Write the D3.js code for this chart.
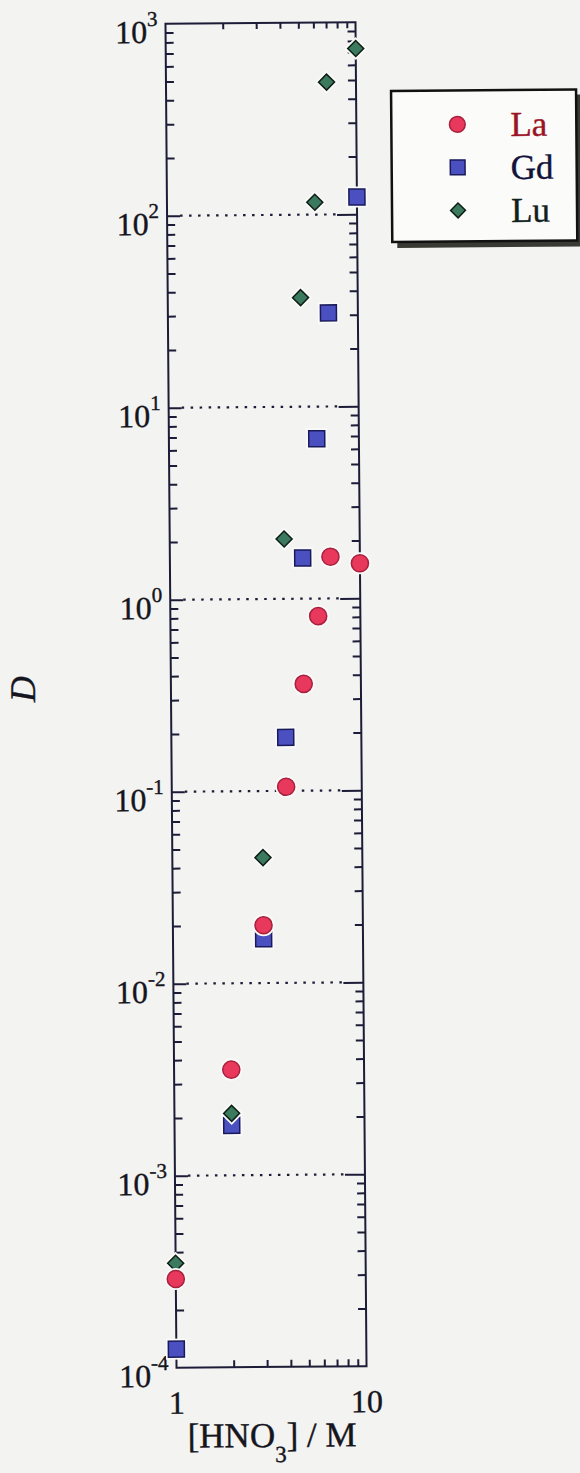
<!DOCTYPE html>
<html>
<head>
<meta charset="utf-8">
<script src="https://cdn.jsdelivr.net/npm/d3@7"></script>
<style>
  body { margin: 0; background: #f3f3f1; }
  svg { display: block; }
  text { font-family: "Liberation Serif", "DejaVu Serif", serif; fill: #151520; stroke: #151520; stroke-width: 0.4; }
</style>
</head>
<body>
<div id="chart"></div>
<script>
// data
var hno3 = [1, 2, 3, 4, 5, 6, 7, 10];
var dLa = [2.9e-4, 3.55e-3, 2.0e-2, 0.105, 0.36, 0.81, 1.65, 1.52];
var dGd = [1.25e-4, 1.82e-3, 1.7e-2, 0.19, 1.63, 6.8, 30.7, 123];
var dLu = [3.5e-4, 2.1e-3, 4.5e-2, 2.05, 37, 116, 489, 730];
var seriesNames = ['La', 'Gd', 'Lu'];
var decades = [-4, -3, -2, -1, 0, 1, 2, 3];
var xTickLabels = ['1', '10'];

var W = 580, H = 1473;
var pLeft = 171, pRight = 361, pTop = 23, pBottom = 1367;

var x = d3.scaleLog().domain([1, 10]).range([pLeft, pRight]);
var y = d3.scaleLog().domain([1e-4, 1e3]).range([pBottom, pTop]);

var svg = d3.select('#chart').append('svg')
    .attr('width', W)
    .attr('height', H);

// the scan is a little tilted
var g = svg.append('g')
    .attr('transform', 'rotate(-0.47, 266, 695)');

var ink = '#1c1c38';

// minor tick values
var yMinor = [];
decades.slice(0, -1).forEach(function(d) {
  for (var k = 2; k <= 9; k++) yMinor.push(k * Math.pow(10, d));
});
var yMajor = decades.map(function(d) { return Math.pow(10, d); });
var xMinor = [2, 3, 4, 5, 6, 7, 8, 9];

// dotted grid at decades
g.append('g').selectAll('line')
    .data(yMajor.slice(1, -1))
    .enter().append('line')
    .attr('x1', pLeft + 13)
    .attr('x2', pRight - 20)
    .attr('y1', function(d) { return y(d); })
    .attr('y2', function(d) { return y(d); })
    .style('stroke', ink)
    .style('stroke-width', 2.2)
    .style('stroke-dasharray', '2.5,6.5');

function styleAxis(sel) {
  sel.select('.domain').remove();
  sel.selectAll('line').style('stroke', ink).style('stroke-width', 2);
}

// y ticks, inward on both sides
g.append('g').attr('transform', 'translate(' + pLeft + ',0)')
    .call(d3.axisLeft(y).tickValues(yMinor).tickSize(-8).tickFormat(''))
    .call(styleAxis);
g.append('g').attr('transform', 'translate(' + pLeft + ',0)')
    .call(d3.axisLeft(y).tickValues(yMajor.slice(1, -1)).tickSize(-13).tickFormat(''))
    .call(styleAxis);
g.append('g').attr('transform', 'translate(' + pRight + ',0)')
    .call(d3.axisRight(y).tickValues(yMinor).tickSize(-8).tickFormat(''))
    .call(styleAxis);
g.append('g').attr('transform', 'translate(' + pRight + ',0)')
    .call(d3.axisRight(y).tickValues(yMajor.slice(1, -1)).tickSize(-20).tickFormat(''))
    .call(styleAxis);

// x ticks, inward top and bottom
g.append('g').attr('transform', 'translate(0,' + pBottom + ')')
    .call(d3.axisBottom(x).tickValues(xMinor).tickSize(-7).tickFormat(''))
    .call(styleAxis);
g.append('g').attr('transform', 'translate(0,' + pTop + ')')
    .call(d3.axisTop(x).tickValues(xMinor).tickSize(-6).tickFormat(''))
    .call(styleAxis);

// frame
g.append('rect')
    .attr('x', pLeft).attr('y', pTop)
    .attr('width', pRight - pLeft).attr('height', pBottom - pTop)
    .style('fill', 'none')
    .style('stroke', ink)
    .style('stroke-width', 2);

// y tick labels 10^n
var yl = g.append('g').selectAll('text')
    .data(decades)
    .enter().append('text')
    .attr('x', pLeft - 8)
    .attr('y', function(d) { return y(Math.pow(10, d)) + 19; })
    .attr('text-anchor', 'end')
    .style('font-size', '32px');
yl.append('tspan').text('10');
yl.append('tspan')
    .attr('dy', -17)
    .style('font-size', '21px')
    .text(function(d) { return d < 0 ? '-' + (-d) : d; });

// x tick labels
g.append('g').selectAll('text')
    .data(xTickLabels)
    .enter().append('text')
    .attr('x', function(d) { return x(+d); })
    .attr('y', pBottom + 46)
    .attr('text-anchor', 'middle')
    .style('font-size', '32px')
    .text(function(d) { return d; });

// axis titles
var xt = g.append('text')
    .attr('x', 266)
    .attr('y', 1447)
    .attr('text-anchor', 'middle')
    .style('font-size', '35px');
xt.append('tspan').text('[HNO');
xt.append('tspan').attr('dy', 15).style('font-size', '23px').text('3');
xt.append('tspan').attr('dy', -15).text('] / M');

g.append('text')
    .attr('transform', 'translate(35,687) rotate(-90)')
    .attr('text-anchor', 'middle')
    .style('font-size', '36px')
    .style('font-style', 'italic')
    .text('D');

// markers
var styles = {
  La: { type: d3.symbolCircle, size: 230, rot: 0, fill: '#e8385c', stroke: '#a8203c', text: '#9a1424' },
  Gd: { type: d3.symbolSquare, size: 256, rot: 0, fill: '#4a50c0', stroke: '#1a1a5a', text: '#12123a' },
  Lu: { type: d3.symbolSquare, size: 128, rot: 45, fill: '#3b7a5e', stroke: '#0e1e14', text: '#10201a' }
};
var values = { La: dLa, Gd: dGd, Lu: dLu };

['Gd', 'Lu', 'La'].forEach(function(name) {
  var s = styles[name];
  var sym = d3.symbol().type(s.type).size(s.size);
  var pts = values[name].map(function(v, i) { return [hno3[i], v]; });
  var grp = g.append('g');
  grp.selectAll('path.halo').data(pts)
      .enter().append('path')
      .attr('class', 'halo')
      .attr('d', sym)
      .attr('transform', function(d) {
        return 'translate(' + x(d[0]) + ',' + y(d[1]) + ') rotate(' + s.rot + ')';
      })
      .style('fill', '#fafafa')
      .style('stroke', '#fafafa')
      .style('stroke-width', 5);
  grp.selectAll('path.mark').data(pts)
      .enter().append('path')
      .attr('class', 'mark')
      .attr('d', sym)
      .attr('transform', function(d) {
        return 'translate(' + x(d[0]) + ',' + y(d[1]) + ') rotate(' + s.rot + ')';
      })
      .style('fill', s.fill)
      .style('stroke', s.stroke)
      .style('stroke-width', 1.5);
});

// legend
var lg = g.append('g').attr('transform', 'translate(396,92)');
lg.append('rect')
    .attr('x', 5).attr('y', 5)
    .attr('width', 185).attr('height', 152)
    .style('fill', '#3a3a34');
lg.append('rect')
    .attr('width', 185).attr('height', 151)
    .style('fill', '#fbfbfa')
    .style('stroke', '#111')
    .style('stroke-width', 2.5);

var items = lg.selectAll('g.item')
    .data(seriesNames)
    .enter().append('g')
    .attr('class', 'item')
    .attr('transform', function(d, i) { return 'translate(0,' + (34 + i * 43) + ')'; });
items.append('path')
    .attr('d', function(d) {
      var s = styles[d];
      return d3.symbol().type(s.type).size(d === 'Lu' ? 110 : s.size * 0.85)();
    })
    .attr('transform', function(d) { return 'translate(66,0) rotate(' + styles[d].rot + ')'; })
    .style('fill', function(d) { return styles[d].fill; })
    .style('stroke', function(d) { return styles[d].stroke; })
    .style('stroke-width', 1.5);
items.append('text')
    .attr('x', 119)
    .attr('y', 12)
    .style('font-size', '35px')
    .style('fill', function(d) { return styles[d].text; })
    .style('stroke', function(d) { return styles[d].text; })
    .text(function(d) { return d; });
</script>
</body>
</html>
